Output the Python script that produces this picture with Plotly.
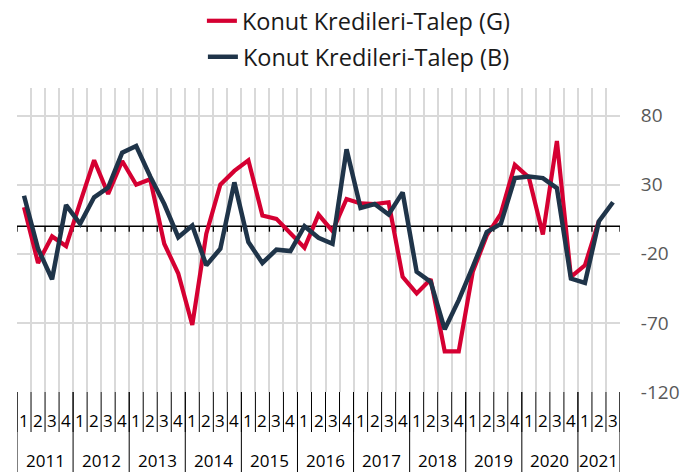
import plotly.graph_objects as go

years = ["2011", "2012", "2013", "2014", "2015", "2016", "2017", "2018", "2019", "2020", "2021"]
quarters_per_year = [4, 4, 4, 4, 4, 4, 4, 4, 4, 4, 3]
quarter_labels = ["1", "2", "3", "4"]

talep_g = [13.7, -26.6, -7.4, -14.4, 17.0, 47.7, 23.3, 47.2, 30.0, 34.0,
           -12.7, -34.3, -71.5, -5.5, 30.0, 40.0, 47.7, 7.7, 5.3, -5.5,
           -15.6, 8.4, -3.6, 19.7, 16.5, 16.0, 17.3, -36.7, -48.7, -38.4,
           -90.6, -90.6, -33.0, -6.7, 8.9, 44.4, 35.3, -6.0, 61.6, -36.7,
           -28.3, 4.0, None]
talep_b = [22.0, -16.3, -38.4, 15.3, 1.7, 20.9, 28.0, 53.2, 58.0, 36.0,
           16.0, -8.0, 0.5, -28.3, -16.3, 31.7, -11.5, -26.6, -17.0, -18.0,
           0.0, -8.4, -12.7, 55.6, 13.2, 16.0, 8.4, 24.5, -33.0, -40.3,
           -74.6, -53.5, -29.5, -4.3, 1.7, 34.8, 36.0, 34.8, 27.6, -37.9,
           -41.0, 3.6, 17.3]

y_ticks = [-120, -70, -20, 30, 80]
y_tick_text = ["-120", "-70", "-20", "30", "80"]
y_range = [-120, 100]

inner = []
year_start = []
for y, n in zip(years, quarters_per_year):
    year_start.append(len(inner))
    inner.extend(quarter_labels[:n])
n_cat = len(inner)
xs = list(range(n_cat))

RED = "#D50032"
NAVY = "#1F3449"
FONT = "Open Sans"

W, H = 691, 472
M_L, M_R, M_T, M_B = 9, 79, 80, 88
plot_h = H - M_T - M_B

fig = go.Figure()
fig.add_trace(go.Scatter(x=xs, y=talep_g, mode="lines",
                         name="Konut Kredileri-Talep (G)",
                         line=dict(color=RED, width=4.2), legend="legend"))
fig.add_trace(go.Scatter(x=xs, y=talep_b, mode="lines",
                         name="Konut Kredileri-Talep (B)",
                         line=dict(color=NAVY, width=4.5), legend="legend2"))

shapes = []
# zero line with ticks
shapes.append(dict(type="line", xref="x", yref="y", x0=-0.5, x1=n_cat - 0.5, y0=0, y1=0,
                   line=dict(color="black", width=1.5), layer="between"))
for k in range(n_cat + 1):
    shapes.append(dict(type="line", xref="x", yref="y", x0=k - 0.5, x1=k - 0.5, y0=0, y1=-4,
                       line=dict(color="black", width=1.3), layer="between"))

annotations = []
for i, q in enumerate(inner):
    annotations.append(dict(x=i, y=0, xref="x", yref="paper", text=q, showarrow=False,
                            yanchor="middle", yshift=-28,
                            font=dict(size=17, family=FONT, color="black")))
for k in range(n_cat + 1):
    shapes.append(dict(type="line", xref="x", yref="paper", x0=k - 0.5, x1=k - 0.5,
                       y0=0, y1=-40 / plot_h, line=dict(color="black", width=1)))
bounds = year_start + [n_cat]
for j, y in enumerate(years):
    a, b = bounds[j], bounds[j + 1]
    annotations.append(dict(x=(a + b - 1) / 2, y=0, xref="x", yref="paper", text=y,
                            showarrow=False, yanchor="middle", yshift=-68,
                            font=dict(size=17, family=FONT, color="black")))
for b in bounds:
    shapes.append(dict(type="line", xref="x", yref="paper", x0=b - 0.5, x1=b - 0.5,
                       y0=0, y1=-M_B / plot_h, line=dict(color="black", width=1)))

fig.update_layout(
    width=W, height=H,
    margin=dict(l=M_L, r=M_R, t=M_T, b=M_B, autoexpand=False),
    paper_bgcolor="white", plot_bgcolor="white",
    font=dict(family=FONT, color="#262626"),
    showlegend=True,
    legend=dict(x=0.567, xanchor="center", y=1 - 13 / H, yanchor="middle",
                yref="container", xref="paper",
                font=dict(size=23.5, family=FONT, color="#1a1a1a"),
                bgcolor="rgba(0,0,0,0)"),
    legend2=dict(x=0.567, xanchor="center", y=1 - 49 / H, yanchor="middle",
                 yref="container", xref="paper",
                 font=dict(size=23.5, family=FONT, color="#1a1a1a"),
                 bgcolor="rgba(0,0,0,0)"),
    xaxis=dict(
        range=[-0.5, n_cat - 0.5], tickmode="linear", tick0=-0.5, dtick=1,
        showgrid=True, gridcolor="#d9d9d9", gridwidth=1.5,
        showticklabels=False, ticks="", showline=False, zeroline=False,
        automargin=False, fixedrange=True,
    ),
    yaxis=dict(
        side="right", range=y_range, tickmode="array", tickvals=y_ticks,
        ticktext=y_tick_text,
        showgrid=True, gridcolor="#d9d9d9", gridwidth=1.5,
        zeroline=False, ticks="outside", ticklen=16, tickcolor="rgba(0,0,0,0)",
        automargin=False,
        tickfont=dict(size=19, family=FONT, color="#595959"),
    ),
    shapes=shapes,
    annotations=annotations,
)

fig.write_html("out.html")
